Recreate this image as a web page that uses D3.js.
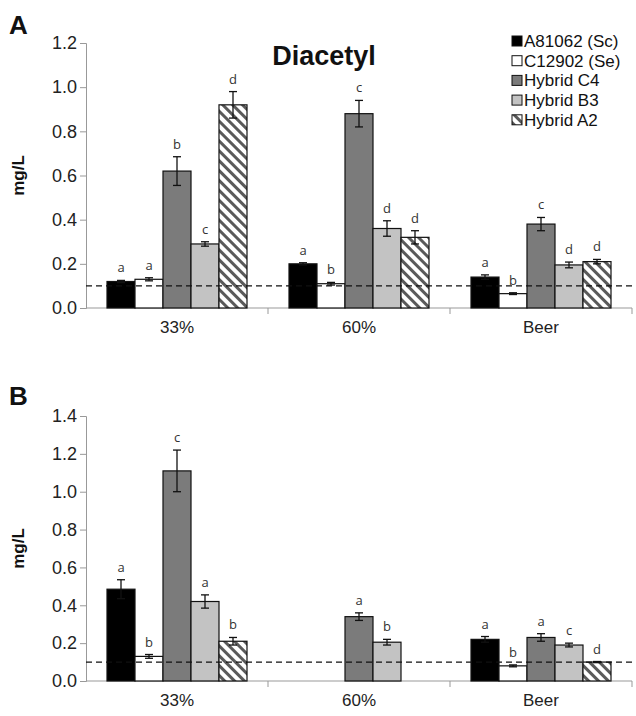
<!DOCTYPE html>
<html>
<head>
<meta charset="utf-8">
<script src="https://cdnjs.cloudflare.com/ajax/libs/d3/7.8.5/d3.min.js"></script>
<style>
  body { margin: 0; background: #fff; }
  svg { display: block; font-family: "Liberation Sans", Arial, sans-serif; }
</style>
</head>
<body>
<svg id="chart" width="636" height="716"></svg>
<script>
// categories and series
var categories = ["33%", "60%", "Beer"];
var series = ["A81062 (Sc)", "C12902 (Se)", "Hybrid C4", "Hybrid B3", "Hybrid A2"];

// panel A values (mg/L), per category, in series order
var valuesA = [
  [0.12, 0.13, 0.62, 0.29, 0.92],
  [0.20, 0.11, 0.88, 0.36, 0.32],
  [0.14, 0.065, 0.38, 0.195, 0.21]
];
var errorsA = [
  [0.005, 0.007, 0.065, 0.01, 0.06],
  [0.005, 0.006, 0.06, 0.035, 0.03],
  [0.01, 0.004, 0.03, 0.013, 0.01]
];
var lettersA = [
  ["a", "a", "b", "c", "d"],
  ["a", "b", "c", "d", "d"],
  ["a", "b", "c", "d", "d"]
];

// panel B values (null = not measured)
var valuesB = [
  [0.485, 0.13, 1.11, 0.42, 0.21],
  [null, null, 0.34, 0.205, null],
  [0.22, 0.08, 0.23, 0.19, 0.10]
];
var errorsB = [
  [0.05, 0.01, 0.11, 0.035, 0.02],
  [0, 0, 0.02, 0.015, 0],
  [0.015, 0.005, 0.02, 0.01, 0.003]
];
var lettersB = [
  ["a", "b", "c", "a", "b"],
  ["", "", "a", "b", ""],
  ["a", "b", "a", "c", "d"]
];

var ticksA = [0, 0.2, 0.4, 0.6, 0.8, 1.0, 1.2];
var ticksB = [0, 0.2, 0.4, 0.6, 0.8, 1.0, 1.2, 1.4];
var threshold = 0.1;

var svg = d3.select("#chart");

// hatch pattern for Hybrid A2 (stripes running top-left to bottom-right)
var defs = svg.append("defs");
var pat = defs.append("pattern")
  .attr("id", "hatch")
  .attr("patternUnits", "userSpaceOnUse")
  .attr("width", 7).attr("height", 7)
  .attr("patternTransform", "rotate(-45)");
pat.append("rect").attr("width", 7).attr("height", 7).attr("fill", "#fff");
pat.append("rect").attr("x", 0).attr("width", 3).attr("height", 7).attr("fill", "#5a5a5a");

var fills = ["#000", "#fff", "#7b7b7b", "#c3c3c3", "url(#hatch)"];

var left = 86, right = 632;

var x0 = d3.scaleBand().domain(categories).range([left, right]).paddingInner(0).paddingOuter(0);
var x1 = d3.scaleBand().domain(series).range([0, x0.bandwidth()]).paddingInner(0).paddingOuter(0.75);

function panel(opts) {
  var y = d3.scaleLinear().domain([0, opts.max]).range([opts.bottom, opts.top]);
  var g = svg.append("g");

  // y axis
  var yAxis = g.append("g")
    .attr("transform", "translate(" + left + ",0)")
    .call(d3.axisLeft(y).tickValues(opts.ticks).tickFormat(d3.format(".1f")).tickSize(6).tickPadding(3));
  yAxis.select(".domain").attr("stroke", "#999");
  yAxis.selectAll(".tick line").attr("stroke", "#999");
  yAxis.selectAll("text").attr("font-size", 18).attr("fill", "#222")
    .attr("font-family", "Liberation Sans, Arial, sans-serif");

  // x axis
  var xAxis = g.append("g")
    .attr("transform", "translate(0," + opts.bottom + ")");
  xAxis.append("line").attr("x1", left).attr("x2", right).attr("stroke", "#999");
  xAxis.selectAll(".sep")
    .data(categories)
    .enter().append("line")
    .attr("x1", function(d) { return x0(d) + x0.bandwidth(); })
    .attr("x2", function(d) { return x0(d) + x0.bandwidth(); })
    .attr("y1", 0).attr("y2", 6)
    .attr("stroke", "#999");
  xAxis.selectAll(".cat")
    .data(categories)
    .enter().append("text")
    .attr("x", function(d) { return x0(d) + x0.bandwidth() / 2; })
    .attr("y", 25)
    .attr("text-anchor", "middle")
    .attr("font-size", 17)
    .attr("fill", "#222")
    .text(function(d) { return d; });

  // bars
  var groups = g.selectAll(".grp")
    .data(categories)
    .enter().append("g")
    .attr("transform", function(d) { return "translate(" + x0(d) + ",0)"; });

  groups.each(function(cat, ci) {
    var rows = series.map(function(s, si) {
      return { s: s, si: si, v: opts.values[ci][si], e: opts.errors[ci][si], l: opts.letters[ci][si] };
    }).filter(function(d) { return d.v !== null; });
    var grp = d3.select(this);

    grp.selectAll("rect")
      .data(rows)
      .enter().append("rect")
      .attr("x", function(d) { return x1(d.s); })
      .attr("y", function(d) { return y(d.v); })
      .attr("width", x1.bandwidth())
      .attr("height", function(d) { return y(0) - y(d.v); })
      .attr("fill", function(d) { return fills[d.si]; })
      .attr("stroke", "#111")
      .attr("stroke-width", 1.2);

    // error bars
    var eb = grp.selectAll(".err")
      .data(rows)
      .enter().append("g")
      .attr("stroke", "#111")
      .attr("stroke-width", 1.3);
    eb.append("line")
      .attr("x1", function(d) { return x1(d.s) + x1.bandwidth() / 2; })
      .attr("x2", function(d) { return x1(d.s) + x1.bandwidth() / 2; })
      .attr("y1", function(d) { return y(d.v - d.e); })
      .attr("y2", function(d) { return y(d.v + d.e); });
    [1, -1].forEach(function(sign) {
      eb.append("line")
        .attr("x1", function(d) { return x1(d.s) + x1.bandwidth() / 2 - 4; })
        .attr("x2", function(d) { return x1(d.s) + x1.bandwidth() / 2 + 4; })
        .attr("y1", function(d) { return y(d.v + sign * d.e); })
        .attr("y2", function(d) { return y(d.v + sign * d.e); });
    });

    // significance letters
    grp.selectAll(".let")
      .data(rows)
      .enter().append("text")
      .attr("x", function(d) { return x1(d.s) + x1.bandwidth() / 2; })
      .attr("y", function(d) { return y(d.v + d.e) - 8; })
      .attr("text-anchor", "middle")
      .attr("font-family", "Open Sans, sans-serif")
      .attr("font-size", 13)
      .attr("fill", "#333")
      .text(function(d) { return d.l; });
  });

  // threshold line
  g.append("line")
    .attr("x1", left).attr("x2", 636)
    .attr("y1", y(threshold)).attr("y2", y(threshold))
    .attr("stroke", "#111")
    .attr("stroke-width", 1.3)
    .attr("stroke-dasharray", "6,4");

  // y label
  g.append("text")
    .attr("transform", "translate(" + 24 + "," + ((opts.top + opts.bottom) / 2) + ") rotate(-90)")
    .attr("text-anchor", "middle")
    .attr("font-weight", "bold")
    .attr("font-size", 17)
    .attr("fill", "#111")
    .text("mg/L");

  // panel letter
  g.append("text")
    .attr("x", 9).attr("y", opts.letterY)
    .attr("font-weight", "bold")
    .attr("font-size", 26)
    .attr("fill", "#111")
    .text(opts.letter);
}

panel({ top: 43, bottom: 308, max: 1.2, ticks: ticksA, values: valuesA, errors: errorsA, letters: lettersA, letter: "A", letterY: 34 });
panel({ top: 416, bottom: 681, max: 1.4, ticks: ticksB, values: valuesB, errors: errorsB, letters: lettersB, letter: "B", letterY: 405 });

// title
svg.append("text")
  .attr("x", 324).attr("y", 65)
  .attr("text-anchor", "middle")
  .attr("font-weight", "bold")
  .attr("font-size", 27)
  .attr("fill", "#111")
  .text("Diacetyl");

// legend
var legend = svg.append("g").attr("transform", "translate(512,36)");
var item = legend.selectAll(".item")
  .data(series)
  .enter().append("g")
  .attr("transform", function(d, i) { return "translate(0," + (i * 19.7) + ")"; });
item.append("rect")
  .attr("width", 10).attr("height", 10)
  .attr("fill", function(d, i) { return fills[i]; })
  .attr("stroke", "#111")
  .attr("stroke-width", 1);
item.append("text")
  .attr("x", 12).attr("y", 11)
  .attr("font-size", 17)
  .attr("fill", "#111")
  .text(function(d) { return d; });
</script>
</body>
</html>
